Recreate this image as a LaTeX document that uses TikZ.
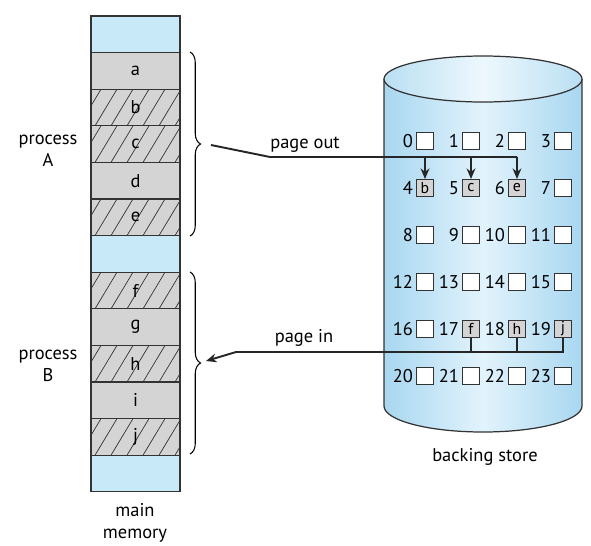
\documentclass[tikz,border=0pt]{standalone}
\usepackage{fontspec}
\setmainfont{PT Sans}
\usetikzlibrary{positioning,calc,arrows.meta,decorations.pathreplacing}

\definecolor{memblue}{HTML}{C8E9F8}
\definecolor{cellgray}{HTML}{D4D4D4}
\definecolor{diskedge}{HTML}{A8D7F0}
\definecolor{diskmid}{HTML}{E2F3FC}
\definecolor{linegray}{HTML}{333333}

\tikzset{
  memcell/.style={draw=linegray, line width=0.6pt, minimum width=1.78cm, minimum height=0.732cm, inner sep=0pt, outer sep=0pt},
  slot/.style={draw=linegray, line width=0.6pt, fill=white, minimum size=0.34cm, inner sep=0pt, font=\fontsize{9}{10}\selectfont},
  hatchline/.style={draw=linegray, line width=0.4pt},
  conn/.style={draw=black!85, line width=1.1pt},
  bracket/.style={decorate, decoration={brace, amplitude=6pt}, line width=0.6pt},
}

\begin{document}
\begin{tikzpicture}[x=0.02cm, y=-0.02cm, font=\fontsize{10.5}{12.5}\selectfont]
\useasboundingbox (0,0) rectangle (591,545);

% main memory
\foreach \lab/\col/\hatch [count=\i from 0] in { /memblue/0,a/cellgray/0,b/cellgray/1,c/cellgray/1,d/cellgray/0,e/cellgray/1, /memblue/0,f/cellgray/1,g/cellgray/0,h/cellgray/1,i/cellgray/0,j/cellgray/1, /memblue/0}
{
  \pgfmathsetmacro\yc{34.3+36.6*\i}
  \node[memcell, fill=\col] (mem\i) at (135.5,\yc) {};
  \ifnum\hatch=1
    \begin{scope}
      \clip (mem\i.south west) rectangle (mem\i.north east);
      \foreach \k in {0,...,6}
        \draw[hatchline] ($(mem\i.south west)+(\k*16-12,0)$) -- ++(22,-36.6);
    \end{scope}
    \draw[memcell] (mem\i.south west) rectangle (mem\i.north east);
  \fi
  \node (lab\i) at (mem\i) {\lab};
}

\node[align=center] (procA) at (48,151) {process\\A};
\node[align=center] (procB) at (48,366) {process\\B};
\node[align=center] (mainmem) at (135,523) {main\\memory};

\draw[bracket] (190,52) -- (190,236);
\draw[bracket] (190,272) -- (190,454);

% backing store
\shade[left color=diskedge, right color=diskedge, middle color=diskmid]
  (384,79) -- (384,406) arc[start angle=180, end angle=0, x radius=99, y radius=26] -- (582,79) -- cycle;
\draw[line width=0.7pt, draw=linegray]
  (384,79) -- (384,406) arc[start angle=180, end angle=0, x radius=99, y radius=26] -- (582,79);
\shade[draw=linegray, line width=0.7pt, left color=diskedge!80, right color=diskedge!80, middle color=diskmid!60]
  (483,79) ellipse [x radius=99, y radius=23];

\foreach \r in {0,...,5}
  \foreach \c in {0,...,3}
  {
    \pgfmathtruncatemacro\n{4*\r+\c}
    \node[slot] (s\n) at (425+46*\c, 141+47*\r) {};
    \node[anchor=east, inner sep=1.5pt] (num\n) at (s\n.west) {\n};
  }
\foreach \n/\lab in {4/b,5/c,6/e,17/f,18/h,19/j}
  \node[slot, fill=cellgray] (pg\lab) at (s\n) {\lab};

\node (store) at (485,457) {backing store};

% page out
\coordinate (outstart) at (211,145);
\coordinate (outbend) at (270,157);
\node (pageout) at (305,145) {page out};
\draw[conn] (outstart) -- (outbend) -- (outbend -| pge.north);
\foreach \p in {b,c,e}
  \draw[conn, -{Stealth[length=6pt, width=5pt]}] (outbend -| pg\p.north) -- (pg\p.north);

% page in
\coordinate (inbend) at (236,352);
\coordinate (tipB) at (206,361);
\node (pagein) at (304,338) {page in};
\draw[conn, -{Stealth[length=6pt, width=5pt]}] (pgj.south) |- (inbend) -- (tipB);
\foreach \p in {f,h}
  \draw[conn] (pg\p.south) -- (pg\p.south |- inbend);
\end{tikzpicture}
\end{document}
